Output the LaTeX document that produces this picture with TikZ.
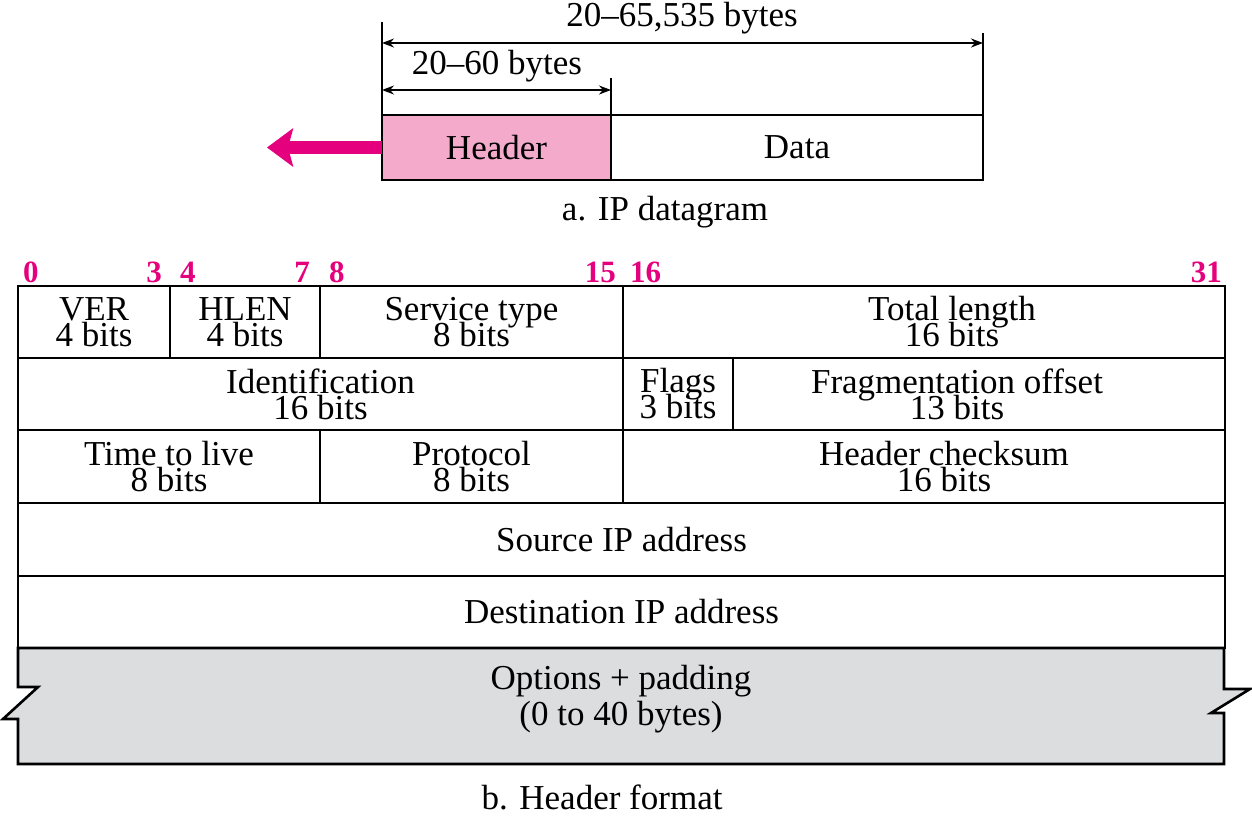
\documentclass[tikz,border=0pt]{standalone}
\usepackage{fontspec}
\setmainfont{Liberation Serif}
\usetikzlibrary{arrows.meta}
\definecolor{mag}{HTML}{E5007D}
\definecolor{pinkfill}{HTML}{F4AACB}
\definecolor{optgray}{HTML}{DCDDDF}
\newcommand\tightlines{\lineskiplimit=-60pt\relax\lineskip=0pt\relax}
\tikzset{
  txt/.style={font=\fontsize{35}{26}\selectfont\tightlines},
  cell/.style={draw, line width=2.6pt, inner sep=0pt, outer sep=0pt, anchor=north west, align=center, txt},
  lbl/.style={inner sep=0pt, align=center, txt},
  bitnum/.style={inner sep=0pt, text=mag, font=\fontsize{31}{31}\selectfont\bfseries},
  dimline/.style={line width=1.6pt},
  dimarrow/.style={line width=1.6pt, {Stealth[length=12pt,width=9pt]}-{Stealth[length=12pt,width=9pt]}},
}
\begin{document}
\begin{tikzpicture}[x=1pt,y=-1pt]
\useasboundingbox (0,0) rectangle (1252,819);
% ---- a. IP datagram
\node[cell, fill=pinkfill, minimum width=229, minimum height=65] (hdr) at (382,115) {Header};
\node[cell, minimum width=372, minimum height=65] (data) at (611,115) {Data};
\coordinate (t1) at (382,22);
\coordinate (t2) at (983,33);
\coordinate (t3) at (611,78);
\draw[dimline] (hdr.north west) -- (t1);
\draw[dimline] (data.north east) -- (t2);
\draw[dimline] (hdr.north east) -- (t3);
\coordinate (a1) at (382,43);
\coordinate (a2) at (983,43);
\coordinate (b1) at (382,90);
\coordinate (b2) at (611,90);
\draw[dimarrow] (a1) -- (a2);
\draw[dimarrow] (b1) -- (b2);
\node[lbl] (l1) at (682,18) {20--65,535 bytes};
\node[lbl] (l2) at (497,66) {20--60 bytes};
\coordinate (tip) at ([xshift=-115pt]hdr.west);
\draw[mag, line width=13pt, -{Stealth[length=26pt,width=38pt,inset=5pt]}] (hdr.west) -- (tip);
\node[lbl] (capa) at (665,212) {a. IP datagram};
% ---- bit numbers
\node[bitnum, anchor=base west] (n0) at (23,282) {0};
\node[bitnum, anchor=base east] (n3) at (162,282) {3};
\node[bitnum, anchor=base west] (n4) at (180,282) {4};
\node[bitnum, anchor=base east] (n7) at (310,282) {7};
\node[bitnum, anchor=base west] (n8) at (329,282) {8};
\node[bitnum, anchor=base east] (n15) at (616,282) {15};
\node[bitnum, anchor=base west] (n16) at (630,282) {16};
\node[bitnum, anchor=base east] (n31) at (1222,282) {31};
% ---- options (drawn first, under the rows)
\draw[line width=2.6pt, fill=optgray, line join=miter]
  (18,648) -- (1224,648) -- (1224,689) -- (1250,689) -- (1211,713) -- (1224,713)
  -- (1224,764) -- (18,764) -- (18,719) -- (3,719) -- (38,687) -- (18,687) -- cycle;
\node[lbl, font=\fontsize{35}{36}\selectfont] (opt) at (621,699) {Options + padding\\(0 to 40 bytes)};
% ---- header rows
\node[cell, minimum width=152, minimum height=72] (ver) at (18,286) {VER\\4 bits};
\node[cell, minimum width=150, minimum height=72] (hlen) at (170,286) {HLEN\\4 bits};
\node[cell, minimum width=303, minimum height=72] (svc) at (320,286) {Service type\\8 bits};
\node[cell, minimum width=602, minimum height=72] (tot) at (623,286) {};
\node[lbl] (totl) at ([xshift=28pt]tot.center) {Total length\\16 bits};
\node[cell, minimum width=605, minimum height=72] (idf) at (18,358) {Identification\\16 bits};
\node[cell, minimum width=110, minimum height=72] (flg) at (623,358) {Flags\\3 bits};
\node[cell, minimum width=492, minimum height=72] (frag) at (733,358) {};
\node[lbl] (fragl) at ([xshift=-22pt]frag.center) {Fragmentation offset\\13 bits};
\node[cell, minimum width=302, minimum height=73] (ttl) at (18,430) {Time to live\\8 bits};
\node[cell, minimum width=303, minimum height=73] (prot) at (320,430) {Protocol\\8 bits};
\node[cell, minimum width=602, minimum height=73] (chk) at (623,430) {};
\node[lbl] (chkl) at ([xshift=20pt]chk.center) {Header checksum\\16 bits};
\node[cell, minimum width=1207, minimum height=73] (src) at (18,503) {Source IP address};
\node[cell, minimum width=1207, minimum height=72] (dst) at (18,576) {Destination IP address};
\node[lbl] (capb) at (602,797) {b. Header format};
\end{tikzpicture}
\end{document}
